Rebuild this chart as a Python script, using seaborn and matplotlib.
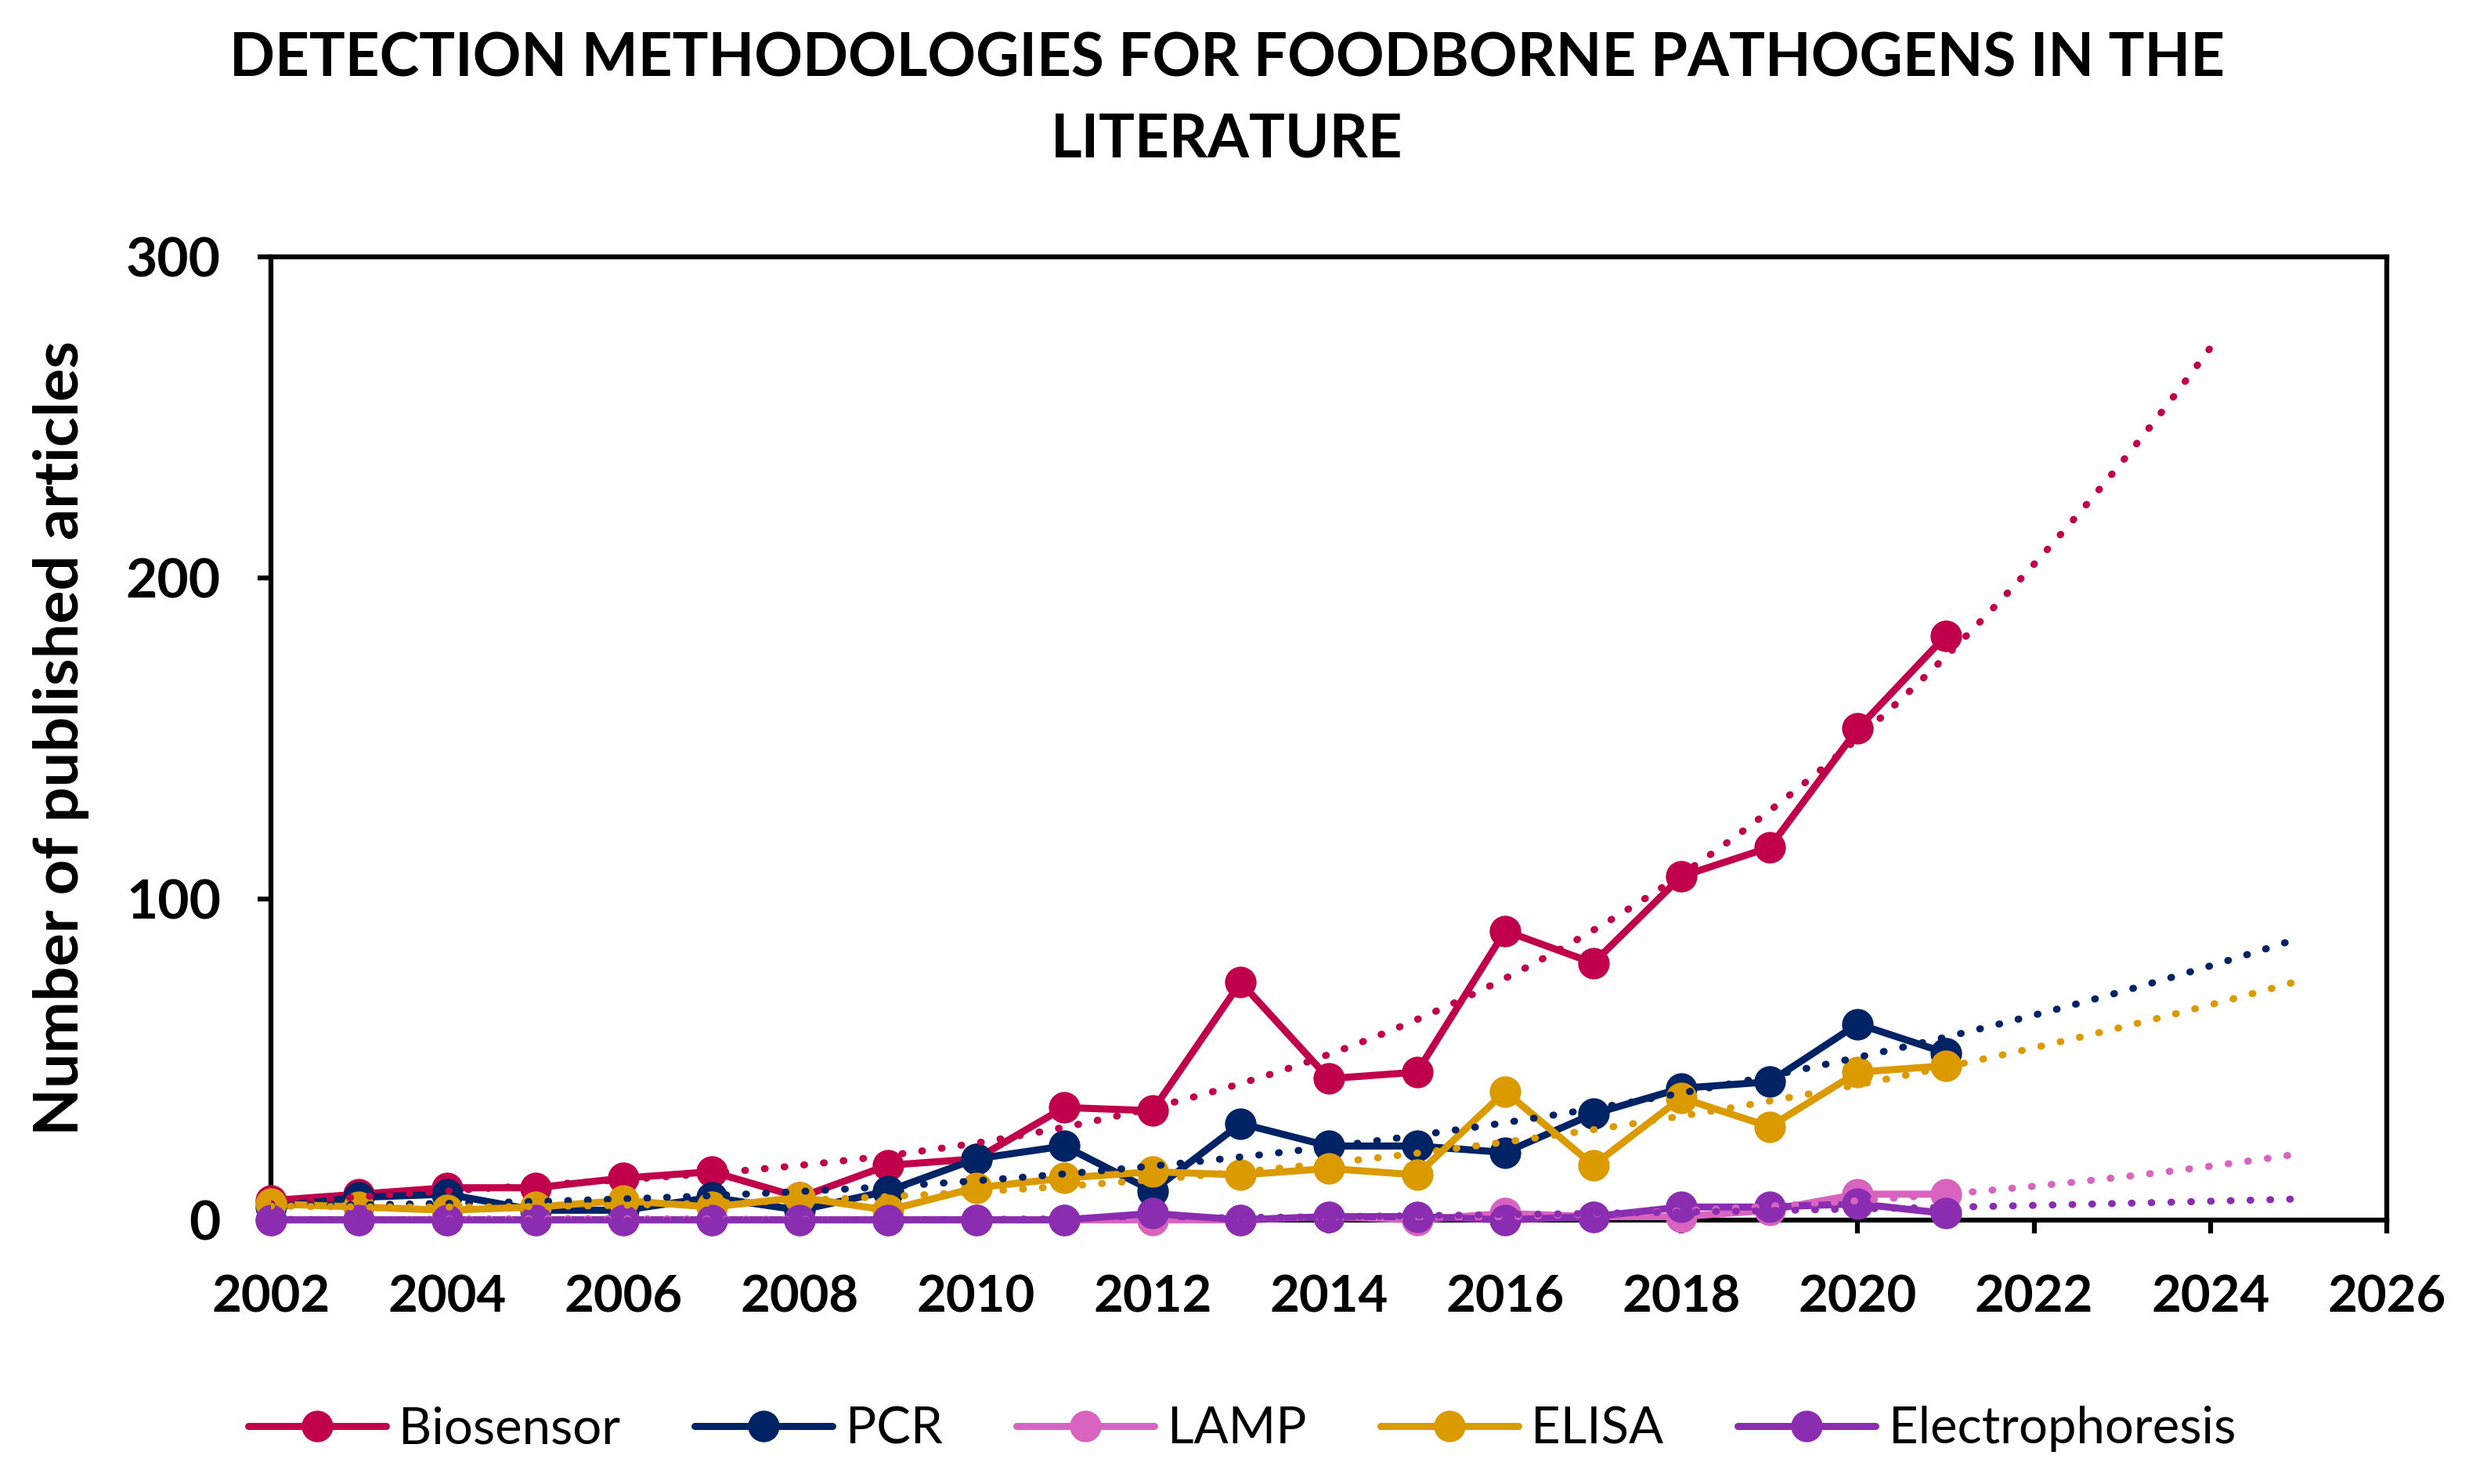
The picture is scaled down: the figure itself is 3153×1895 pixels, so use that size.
import numpy as np
import pandas as pd
import seaborn as sns
import matplotlib.pyplot as plt
from matplotlib.lines import Line2D

years = list(range(2002, 2022))
methods = ["Biosensor", "PCR", "LAMP", "ELISA", "Electrophoresis"]

biosensor = [6, 8, 10, 10, 13, 15, 7, 17, 19, 35, 34, 74, 44, 46, 90, 80, 107, 116, 153, 182]
pcr = [4, 7, 8, 3, 3, 7, 3, 9, 19, 23, 9, 30, 23, 23, 21, 33, 41, 43, 61, 52]
lamp = [0, 0, 0, 0, 0, 0, 0, 0, 0, 0, 0, 0, 1, 0, 2, 1, 1, 3, 8, 8]
elisa = [5, 4, 3, 4, 6, 4, 7, 3, 10, 13, 15, 14, 16, 14, 40, 17, 38, 29, 46, 48]
electrophoresis = [0, 0, 0, 0, 0, 0, 0, 0, 0, 0, 2, 0, 1, 1, 0, 1, 4, 4, 5, 2]

colors = ["#C0004B", "#002366", "#D864C0", "#DB9A00", "#8B2DB0"]
# polynomial trendline (order 3) with forecast end year per method, as in Excel
trend_order = 3
trend_end = {"Biosensor": 2024, "PCR": 2025, "LAMP": 2025, "ELISA": 2025, "Electrophoresis": 2025}

series = [biosensor, pcr, lamp, elisa, electrophoresis]
df = pd.DataFrame({
    "Year": years * len(methods),
    "Articles": sum(series, []),
    "Method": np.repeat(methods, len(years)),
})

sns.set_theme(style="ticks")
plt.rcParams["font.family"] = ["Lato", "DejaVu Sans"]
plt.rcParams["text.color"] = "black"
plt.rcParams["axes.labelcolor"] = "black"

fig = plt.figure(figsize=(31.53, 18.95), dpi=100)
ax = fig.add_axes([0.1097, 0.178, 0.857, 0.649])

palette = dict(zip(methods, colors))
sns.lineplot(data=df, x="Year", y="Articles", hue="Method", palette=palette,
             hue_order=methods, marker="o", markersize=29, markeredgewidth=0,
             linewidth=6.5, legend=False, clip_on=False, ax=ax, zorder=3)

for m, vals in zip(methods, series):
    coef = np.polyfit(years, vals, trend_order)
    xs = np.linspace(2002, trend_end[m], 200)
    ax.plot(xs, np.polyval(coef, xs), color=palette[m], linewidth=6.5,
            linestyle=(0, (0.1, 2.7)), dash_capstyle="round", zorder=4)

ax.set_xlim(2002, 2026)
ax.set_ylim(0, 300)
ax.set_xticks(range(2002, 2027, 2))
ax.set_yticks([0, 100, 200, 300])
ax.set_xlabel("")
ax.set_ylabel("Number of published articles", fontsize=57, fontweight="bold",
              labelpad=34, color="black")
for s in ax.spines.values():
    s.set_visible(True)
    s.set_linewidth(4.5)
    s.set_color("black")
ax.tick_params(axis="both", direction="out", length=12, width=4.5, colors="black")
ax.tick_params(axis="x", pad=38, labelsize=47)
ax.tick_params(axis="y", pad=34, labelsize=50)
for lab in ax.get_xticklabels() + ax.get_yticklabels():
    lab.set_fontweight("bold")

fig.text(0.497, 0.933, "DETECTION METHODOLOGIES FOR FOODBORNE PATHOGENS IN THE\nLITERATURE",
         ha="center", va="center", fontsize=55, fontweight="bold", linespacing=1.57,
         color="black")

handles = [Line2D([], [], color=c, marker="o", markersize=29, markeredgewidth=0, linewidth=6.5)
           for c in colors]
leg = fig.legend(handles, methods, loc="center", bbox_to_anchor=(0.503, 0.037), ncol=5,
                 frameon=False, fontsize=47, handlelength=2.7, handletextpad=0.25,
                 columnspacing=1.45)
for t in leg.get_texts():
    t.set_color("black")

fig.savefig("out.png", dpi=100)
